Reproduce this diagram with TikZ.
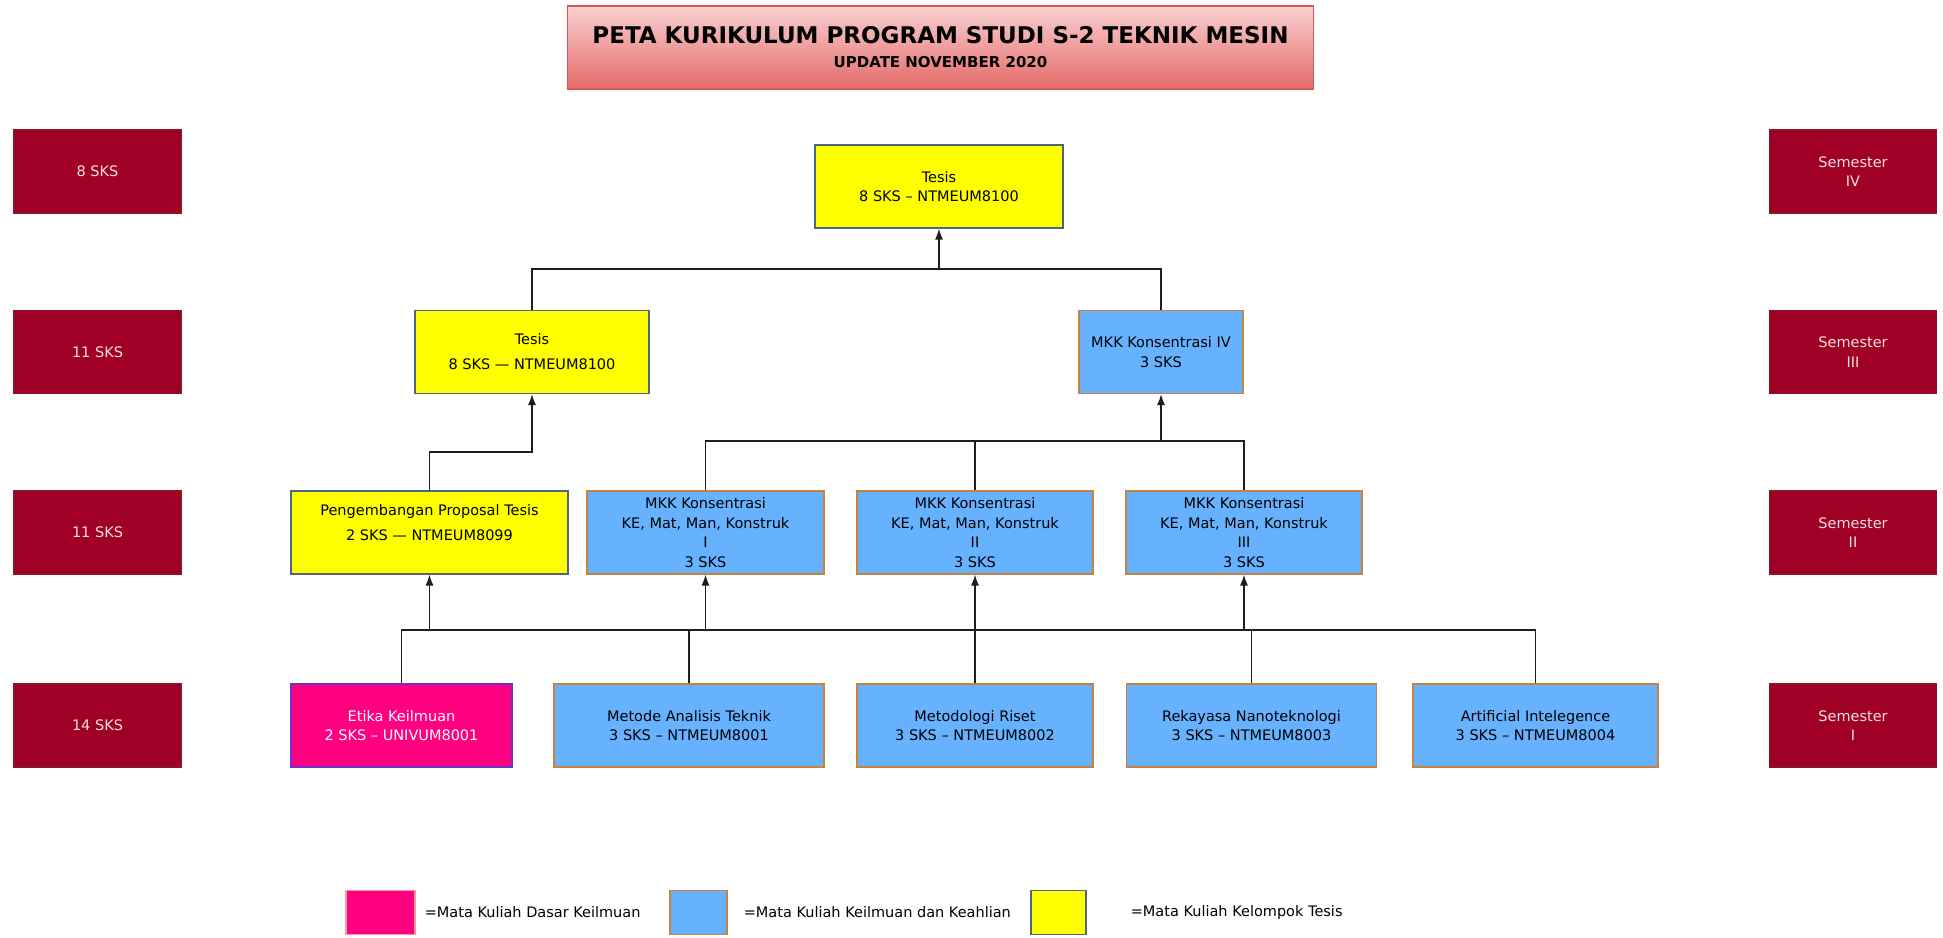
\documentclass[tikz,border=0pt]{standalone}
\usepackage{fontspec}
\setmainfont{DejaVu Sans}
\usepackage{tikz}
\usetikzlibrary{arrows.meta}

\definecolor{sksred}{RGB}{161,0,37}
\definecolor{sksedge}{RGB}{140,20,40}
\definecolor{skstext}{RGB}{247,222,230}
\definecolor{tsyellow}{RGB}{255,255,0}
\definecolor{tsedge}{RGB}{80,100,125}
\definecolor{mkblue}{RGB}{102,178,255}
\definecolor{mkedge}{RGB}{200,130,60}
\definecolor{dkpink}{RGB}{255,0,128}
\definecolor{dkedge}{RGB}{110,50,200}
\definecolor{ttop}{RGB}{248,208,208}
\definecolor{tbot}{RGB}{228,106,104}
\definecolor{tedge}{RGB}{210,90,90}
\definecolor{linecol}{RGB}{30,30,30}

\begin{document}
\begin{tikzpicture}[x=1pt,y=1pt,
    box/.style={draw, line width=1.2pt, minimum height=83pt, inner sep=0pt,
      align=center, font=\fontsize{14.5}{19.5}\selectfont},
    redbox/.style={box, fill=sksred, draw=sksedge, text=skstext, minimum width=167pt},
    tesisbox/.style={box, fill=tsyellow, draw=tsedge},
    mkbox/.style={box, fill=mkblue, draw=mkedge},
    dasarbox/.style={box, fill=dkpink, draw=dkedge, text=white},
    legtxt/.style={anchor=west, inner sep=0pt, font=\fontsize{14.5}{17}\selectfont},
    bus/.style={draw=linecol, line width=1.3pt},
    arr/.style={bus, -{Latex[length=11pt,width=8pt]}}]
    \useasboundingbox (0,0) rectangle (1943,937);

    % judul
    \node[box, top color=ttop, bottom color=tbot, draw=tedge, minimum width=746pt,
      font=\bfseries\fontsize{15}{24}\selectfont] (judul) at (940.5,889.5)
      {{\fontsize{23}{24}\selectfont PETA KURIKULUM PROGRAM STUDI S-2 TEKNIK MESIN}\\UPDATE NOVEMBER 2020};

    % semester IV
    \node[redbox] (sks4) at (97.5,765.5) {8 SKS};
    \node[tesisbox, minimum width=248pt] (tesisA) at (939,750.5) {Tesis\\8 SKS – NTMEUM8100};
    \node[redbox] (sem4) at (1853,765.5) {Semester\\IV};

    % semester III
    \node[redbox] (sks3) at (97.5,585) {11 SKS};
    \node[tesisbox, minimum width=234pt, font=\fontsize{14.5}{25}\selectfont] (tesisB) at (532,585) {Tesis\\8 SKS — NTMEUM8100};
    \node[mkbox, minimum width=164pt] (mkkIV) at (1161,585) {MKK Konsentrasi IV\\3 SKS};
    \node[redbox] (sem3) at (1853,585) {Semester\\III};

    % semester II
    \node[redbox] (sks2) at (97.5,404.5) {11 SKS};
    \node[tesisbox, minimum width=277pt, font=\fontsize{14.5}{25}\selectfont, text depth=21pt] (proposal) at (429.5,404.5) {Pengembangan Proposal Tesis\\2 SKS — NTMEUM8099};
    \node[mkbox, minimum width=237pt] (mkkI) at (705.5,404.5) {MKK Konsentrasi\\KE, Mat, Man, Konstruk\\I\\3 SKS};
    \node[mkbox, minimum width=236pt] (mkkII) at (975,404.5) {MKK Konsentrasi\\KE, Mat, Man, Konstruk\\II\\3 SKS};
    \node[mkbox, minimum width=236pt] (mkkIII) at (1244,404.5) {MKK Konsentrasi\\KE, Mat, Man, Konstruk\\III\\3 SKS};
    \node[redbox] (sem2) at (1853,404.5) {Semester\\II};

    % semester I
    \node[redbox] (sks1) at (97.5,211.5) {14 SKS};
    \node[dasarbox, minimum width=221pt] (etika) at (401.5,211.5) {Etika Keilmuan\\2 SKS – UNIVUM8001};
    \node[mkbox, minimum width=270pt] (metode) at (689,211.5) {Metode Analisis Teknik\\3 SKS – NTMEUM8001};
    \node[mkbox, minimum width=236pt] (metodologi) at (975,211.5) {Metodologi Riset\\3 SKS – NTMEUM8002};
    \node[mkbox, minimum width=250pt] (rekayasa) at (1251.5,211.5) {Rekayasa Nanoteknologi\\3 SKS – NTMEUM8003};
    \node[mkbox, minimum width=245pt] (ai) at (1535.5,211.5) {Artificial Intelegence\\3 SKS – NTMEUM8004};
    \node[redbox] (sem1) at (1853,211.5) {Semester\\I};

    % jalur
    \coordinate (topbus) at (939,668);
    \coordinate (propbend) at (532,485);
    \coordinate (midbus) at (1161,496);
    \coordinate (lowbus) at (0,307);

    \draw[bus] (tesisB.north) |- (topbus) -| (mkkIV.north);
    \draw[arr] (topbus) -- (tesisA.south);
    \draw[arr] (proposal.north) |- (propbend) -- (tesisB.south);
    \draw[bus] (mkkI.north) |- (midbus);
    \draw[bus] (mkkII.north) -- (mkkII.north |- midbus);
    \draw[bus] (mkkIII.north) |- (midbus);
    \draw[arr] (midbus) -- (mkkIV.south);
    \draw[bus] (etika.north) |- (ai.north |- lowbus) -- (ai.north);
    \foreach \n in {metode,metodologi,rekayasa}
      \draw[bus] (\n.north) -- (\n.north |- lowbus);
    \foreach \n in {proposal,mkkI,mkkII,mkkIII}
      \draw[arr] (\n.south |- lowbus) -- (\n.south);

    % legenda
    \node[dasarbox, draw=pink!80!red, minimum width=69pt, minimum height=44pt] (lgdasar) at (380.5,24.5) {};
    \node[legtxt] (lgdasartxt) at ([xshift=9pt]lgdasar.east) {=Mata Kuliah Dasar Keilmuan};
    \node[mkbox, minimum width=57pt, minimum height=44pt] (lgmk) at (698.5,24.5) {};
    \node[legtxt] (lgmktxt) at ([xshift=16pt]lgmk.east) {=Mata Kuliah Keilmuan dan Keahlian};
    \node[tesisbox, minimum width=55pt, minimum height=44pt] (lgtesis) at (1058.5,24.5) {};
    \node[legtxt] (lgtesistxt) at ([xshift=44pt]lgtesis.east) {=Mata Kuliah Kelompok Tesis};
\end{tikzpicture}
\end{document}
